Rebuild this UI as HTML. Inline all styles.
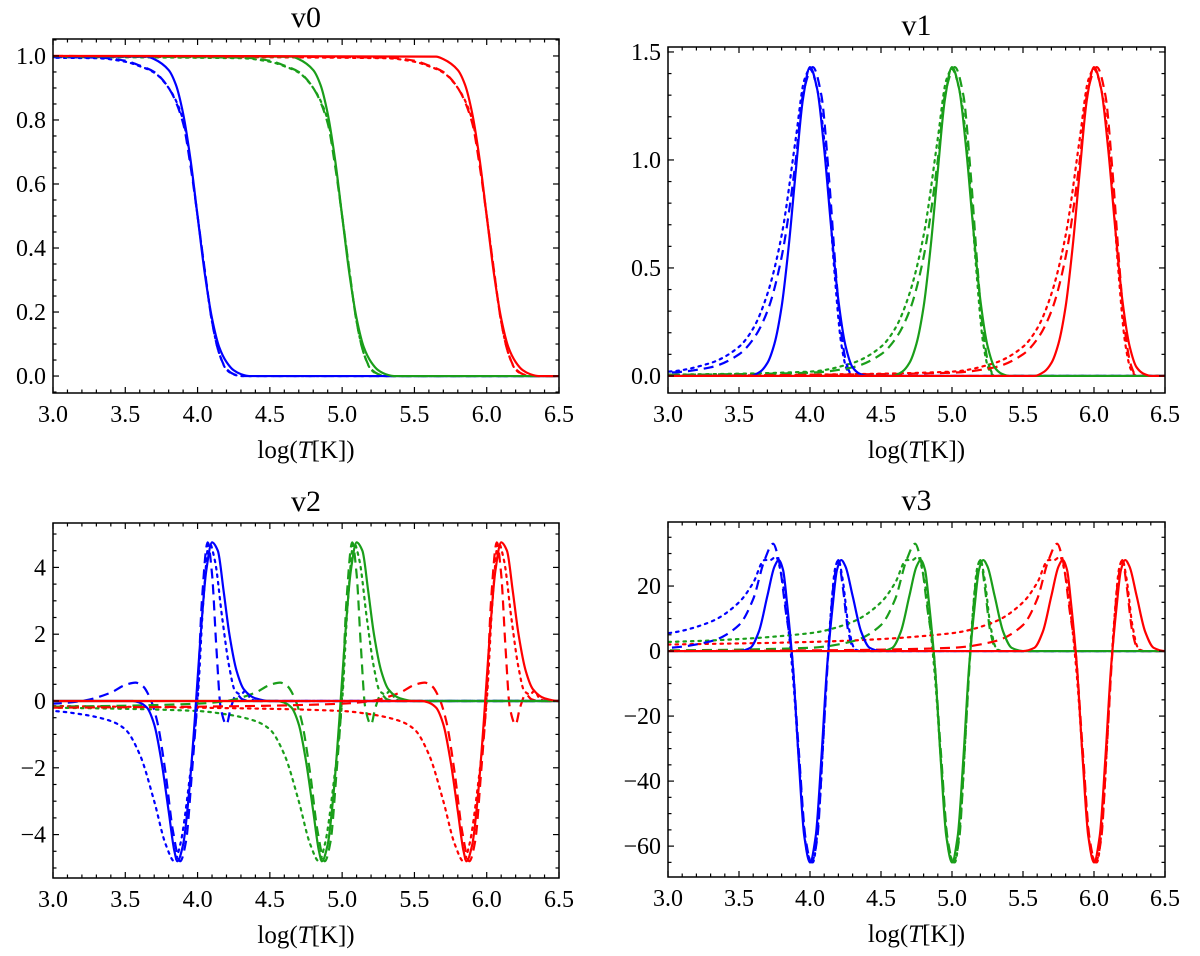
<!DOCTYPE html>
<html><head><meta charset="utf-8"><style>
body{margin:0;background:#fff;}
svg{display:block;font-family:"Liberation Serif",serif;}
</style></head><body>
<svg id="fig" width="1200" height="956" viewBox="0 0 1200 956" xmlns="http://www.w3.org/2000/svg"></svg>
<script>
// ---- data ----
const centers = [4, 5, 6];
const colors = ['#0000ff', '#1a9e1a', '#ff0000'];
const colorNames = ['blue', 'green', 'red'];
const xTicks = [3.0, 3.5, 4.0, 4.5, 5.0, 5.5, 6.0, 6.5];
const xTickLabels = ['3.0','3.5','4.0','4.5','5.0','5.5','6.0','6.5'];

const v0Solid = [[-3,1],[-0.35,0.998],[-0.3,0.99],[-0.2,0.956],[-0.15,0.91],[-0.1,0.82],[-0.05,0.68],[0,0.5],[0.05,0.32],[0.1,0.18],[0.15,0.09],[0.2,0.044],[0.25,0.018],[0.3,0.006],[0.36,0],[3,0]];
const v0Dashed = [[-3,1],[-0.7,0.995],[-0.5,0.985],[-0.4,0.97],[-0.3,0.95],[-0.2,0.9],[-0.1,0.79],[-0.05,0.66],[0,0.5],[0.05,0.33],[0.1,0.17],[0.15,0.07],[0.2,0.022],[0.25,0.006],[0.3,0],[3,0]];
const v0Dotted = [[-3,0.998],[-0.7,0.993],[-0.5,0.982],[-0.4,0.968],[-0.3,0.948],[-0.2,0.9],[-0.1,0.8],[-0.05,0.67],[0,0.5],[0.05,0.33],[0.1,0.17],[0.15,0.07],[0.2,0.02],[0.25,0.005],[0.3,0],[3,0]];

const v1Solid = [[-3,0],[-0.42,0],[-0.35,0.02],[-0.3,0.06],[-0.25,0.15],[-0.2,0.32],[-0.15,0.6],[-0.1,0.95],[-0.05,1.28],[0,1.43],[0.05,1.33],[0.1,1.05],[0.15,0.68],[0.2,0.35],[0.25,0.14],[0.3,0.04],[0.35,0.01],[0.4,0],[3,0]];
const v1Dashed = [[-3,0],[-2,0.005],[-1,0.015],[-0.7,0.04],[-0.5,0.1],[-0.4,0.17],[-0.3,0.3],[-0.2,0.55],[-0.1,1.0],[-0.05,1.3],[0.02,1.43],[0.08,1.3],[0.13,0.95],[0.18,0.5],[0.22,0.2],[0.26,0.05],[0.3,0],[3,0]];
const v1Dotted = [[-3,0],[-2,0.006],[-1,0.02],[-0.7,0.06],[-0.5,0.135],[-0.4,0.22],[-0.3,0.38],[-0.2,0.65],[-0.1,1.1],[-0.04,1.37],[0,1.42],[0.06,1.3],[0.12,0.95],[0.17,0.5],[0.22,0.15],[0.26,0.03],[0.3,0],[3,0]];

const v2Solid = [[-3,0],[-0.45,0],[-0.4,-0.05],[-0.35,-0.2],[-0.3,-0.7],[-0.25,-1.8],[-0.2,-3.3],[-0.16,-4.5],[-0.14,-4.8],[-0.1,-4.3],[-0.06,-2.8],[-0.02,-0.6],[0.02,1.9],[0.06,3.9],[0.1,4.75],[0.14,4.5],[0.18,3.3],[0.22,2.0],[0.27,0.9],[0.32,0.35],[0.4,0.08],[0.5,0],[3,0]];
const v2Dashed = [[-3,-0.2],[-2,-0.17],[-1,-0.08],[-0.8,0.0],[-0.6,0.25],[-0.5,0.48],[-0.43,0.55],[-0.38,0.45],[-0.33,0.1],[-0.28,-0.6],[-0.22,-2.2],[-0.17,-3.9],[-0.12,-4.8],[-0.08,-4.2],[-0.04,-2.2],[0,0.2],[0.03,3.0],[0.07,4.75],[0.1,3.8],[0.13,1.6],[0.16,-0.2],[0.2,-0.7],[0.23,-0.2],[0.27,0.2],[0.31,0.05],[0.36,0],[3,0]];
const v2Dotted = [[-3,-0.15],[-2,-0.2],[-1,-0.3],[-0.8,-0.4],[-0.6,-0.6],[-0.5,-0.85],[-0.4,-1.6],[-0.3,-3.0],[-0.22,-4.3],[-0.16,-4.8],[-0.12,-4.3],[-0.06,-2.5],[0,0],[0.04,3.0],[0.08,4.75],[0.12,4.2],[0.17,2.5],[0.22,1.0],[0.26,0.3],[0.3,0.2],[0.33,0.3],[0.37,0.05],[0.42,0],[3,0]];

const v3Solid = [[-3,0],[-0.5,0],[-0.42,1],[-0.36,6],[-0.3,17],[-0.25,26],[-0.22,28],[-0.19,25],[-0.16,14],[-0.12,-5],[-0.08,-33],[-0.04,-57],[0,-65],[0.04,-57],[0.08,-33],[0.12,-5],[0.16,14],[0.19,25],[0.22,28],[0.25,26],[0.3,17],[0.36,6],[0.42,1],[0.5,0],[3,0]];
const v3Dashed = [[-3,0],[-2,0.2],[-1,1],[-0.7,3],[-0.5,8],[-0.4,16],[-0.32,28],[-0.26,33],[-0.22,28],[-0.17,12],[-0.13,0],[-0.08,-30],[-0.03,-58],[0.01,-65],[0.05,-58],[0.09,-30],[0.13,0],[0.17,22],[0.2,28],[0.23,20],[0.27,6],[0.31,0.5],[0.35,0],[3,0]];
const v3Dotted = [[-3,2],[-2,2.8],[-1,5.5],[-0.7,9],[-0.5,15],[-0.4,21],[-0.32,28],[-0.28,28],[-0.24,29],[-0.2,23],[-0.16,10],[-0.12,-8],[-0.07,-38],[-0.02,-62],[0.02,-65],[0.06,-52],[0.1,-22],[0.14,8],[0.18,26],[0.2,28],[0.23,22],[0.27,8],[0.31,1],[0.35,0],[3,0]];

const v0YTicks = [0, 0.2, 0.4, 0.6, 0.8, 1.0];
const v0YLabels = ['0.0','0.2','0.4','0.6','0.8','1.0'];
const v1YTicks = [0, 0.5, 1.0, 1.5];
const v1YLabels = ['0.0','0.5','1.0','1.5'];
const v2YTicks = [-4, -2, 0, 2, 4];
const v2YLabels = ['\u22124','\u22122','0','2','4'];
const v3YTicks = [-60, -40, -20, 0, 20];
const v3YLabels = ['\u221260','\u221240','\u221220','0','20'];

const panels = [
  {name:'v0', box:[53,39,559,393], y0:-0.053, y1:1.053, yt:v0YTicks, yl:v0YLabels, minor:0.05, series:[v0Solid,v0Dashed,v0Dotted]},
  {name:'v1', box:[668,47,1165,393], y0:-0.079, y1:1.523, yt:v1YTicks, yl:v1YLabels, minor:0.1, series:[v1Solid,v1Dashed,v1Dotted]},
  {name:'v2', box:[53,523,559,878], y0:-5.3, y1:5.33, yt:v2YTicks, yl:v2YLabels, minor:0.5, series:[v2Solid,v2Dashed,v2Dotted]},
  {name:'v3', box:[668,522,1165,877], y0:-69.5, y1:39.7, yt:v3YTicks, yl:v3YLabels, minor:5, series:[v3Solid,v3Dashed,v3Dotted]}
];
const styleNames = ['solid','dashed','dotted'];
const dashes = ['', '10,6', '2.5,5'];

const NS = 'http://www.w3.org/2000/svg';
const svg = document.getElementById('fig');
function mk(tag, attrs, parent){
  const e = document.createElementNS(NS, tag);
  for (const k in attrs) e.setAttribute(k, attrs[k]);
  (parent||svg).appendChild(e);
  return e;
}
// monotone cubic (Fritsch-Carlson) path through screen points sorted by x
function monoPath(pts){
  const n = pts.length;
  const dx = [], sl = [];
  for (let i=0;i<n-1;i++){ dx.push(pts[i+1][0]-pts[i][0]); sl.push((pts[i+1][1]-pts[i][1])/dx[i]); }
  const m = new Array(n);
  m[0] = sl[0]; m[n-1] = sl[n-2];
  for (let i=1;i<n-1;i++){
    if (sl[i-1]*sl[i] <= 0) m[i] = 0;
    else {
      const w1 = 2*dx[i]+dx[i-1], w2 = dx[i]+2*dx[i-1];
      m[i] = (w1+w2)/(w1/sl[i-1] + w2/sl[i]);
    }
  }
  let d = 'M' + pts[0][0].toFixed(2) + ',' + pts[0][1].toFixed(2);
  for (let i=0;i<n-1;i++){
    const h = dx[i]/3;
    d += 'C' + (pts[i][0]+h).toFixed(2) + ',' + (pts[i][1]+m[i]*h).toFixed(2) + ' ' +
         (pts[i+1][0]-h).toFixed(2) + ',' + (pts[i+1][1]-m[i+1]*h).toFixed(2) + ' ' +
         pts[i+1][0].toFixed(2) + ',' + pts[i+1][1].toFixed(2);
  }
  return d;
}

panels.forEach((P, pi) => {
  const [L,T,R,B] = P.box;
  const xs = v => L + (v-3.0)/(6.5-3.0)*(R-L);
  const ys = v => B - (v-P.y0)/(P.y1-P.y0)*(B-T);
  const g = mk('g', {});
  
  
  const clip = mk('clipPath', {id:'clip'+pi}, g);
  mk('rect', {x:L, y:T, width:R-L, height:B-T}, clip);
  const plot = mk('g', {'clip-path':'url(#clip'+pi+')'}, g);
  
  
  [2,1,0].forEach(si => {
    centers.forEach((c, ci) => {
      const pts = P.series[si].map(p => [xs(c+p[0]), ys(p[1])]);
      const path = mk('path', {d:monoPath(pts), fill:'none', stroke:colors[ci], 'stroke-width':2.2, 'stroke-linecap': si===2?'round':'butt', 'stroke-linejoin':'round'}, plot);
      if (dashes[si]) path.setAttribute('stroke-dasharray', dashes[si]);
      
      
    });
  });
  const fr = mk('rect', {x:L, y:T, width:R-L, height:B-T, fill:'none', stroke:'#000', 'stroke-width':1.5}, g);
  
  
  for (let k=0;k<=35;k++){
    const v = 3.0 + k*0.1, x = xs(v);
    const len = (k%5===0) ? 6 : 3.5;
    mk('line', {x1:x, y1:B, x2:x, y2:B-len, stroke:'#000', 'stroke-width':1.2}, g);
    mk('line', {x1:x, y1:T, x2:x, y2:T+len, stroke:'#000', 'stroke-width':1.2}, g);
  }
  xTicks.forEach((v,i) => {
    const t = mk('text', {x:xs(v), y:B+29, 'font-size':24, 'text-anchor':'middle'}, g);
    t.textContent = xTickLabels[i];
    
    
  });
  const start = Math.ceil(P.y0/P.minor - 1e-9), end = Math.floor(P.y1/P.minor + 1e-9);
  const majorStep = P.yt[1]-P.yt[0];
  for (let k=start;k<=end;k++){
    const v = k*P.minor, y = ys(v);
    const isMajor = Math.abs(v/majorStep - Math.round(v/majorStep)) < 1e-6;
    const len = isMajor ? 6 : 3.5;
    mk('line', {x1:L, y1:y, x2:L+len, y2:y, stroke:'#000', 'stroke-width':1.2}, g);
    mk('line', {x1:R, y1:y, x2:R-len, y2:y, stroke:'#000', 'stroke-width':1.2}, g);
  }
  P.yt.forEach((v,i) => {
    const t = mk('text', {x:L-7, y:ys(v)+8, 'font-size':24, 'text-anchor':'end'}, g);
    t.textContent = P.yl[i];
    
    
  });
  const tt = mk('text', {x:(L+R)/2, y:T-12, 'font-size':30, 'text-anchor':'middle'}, g);
  tt.textContent = P.name;
  
  
  const xl = mk('text', {x:(L+R)/2, y:B+65, 'font-size':25, 'text-anchor':'middle'}, g);
  
  
  const s1 = mk('tspan', {}, xl); s1.textContent = 'log(';
  const s2 = mk('tspan', {'font-style':'italic'}, xl); s2.textContent = 'T';
  const s3 = mk('tspan', {}, xl); s3.textContent = '[K])';
});
</script>
</body></html>
